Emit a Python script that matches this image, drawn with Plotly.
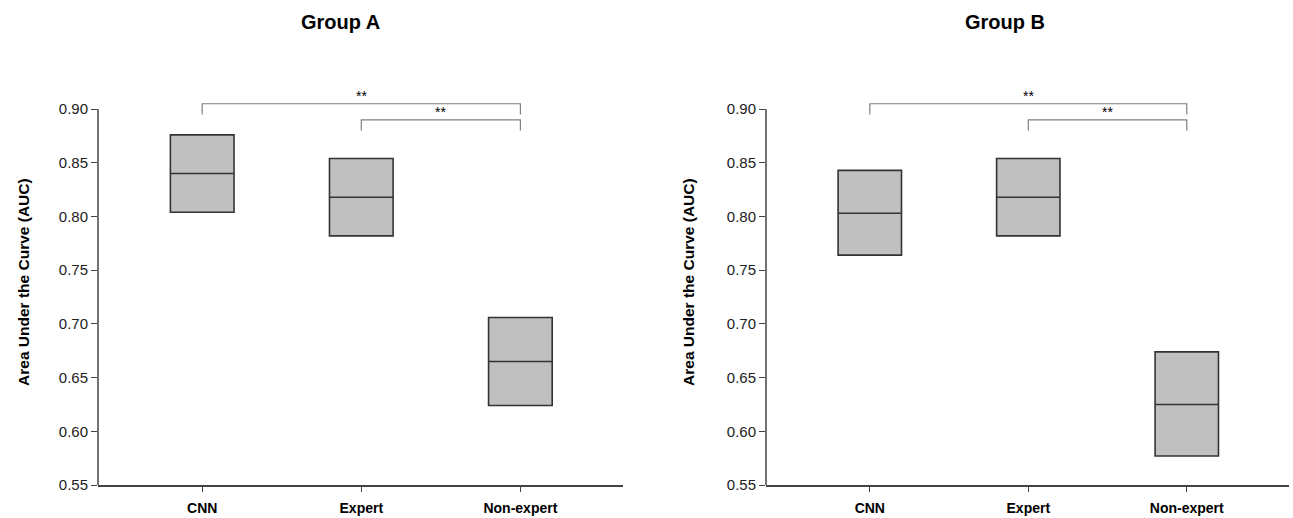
import plotly.graph_objects as go

categories = ["CNN", "Expert", "Non-expert"]
panel_titles = ["Group A", "Group B"]

# [q1, median, q3] per category
a_low = [0.804, 0.782, 0.624]
a_med = [0.840, 0.818, 0.665]
a_high = [0.876, 0.854, 0.706]

b_low = [0.764, 0.782, 0.577]
b_med = [0.803, 0.818, 0.625]
b_high = [0.843, 0.854, 0.674]

# significance brackets: (from index, to index, level, label)
brackets = [(0, 2, 0.905, "**"), (1, 2, 0.890, "**")]
yticks = [0.55, 0.60, 0.65, 0.70, 0.75, 0.80, 0.85, 0.90]

fig = go.Figure()
font = "Liberation Sans, Arial, sans-serif"
panels = [(a_low, a_med, a_high), (b_low, b_med, b_high)]
domains = [[98 / 1293, 623 / 1293], [766 / 1293, 1289 / 1293]]
xr = [-0.655, 2.645]
yr = [0.55, 0.915]

for i, (lo, md, hi) in enumerate(panels):
    xa = "x" if i == 0 else "x2"
    ya = "y" if i == 0 else "y2"
    fig.add_trace(go.Box(
        x=[0, 1, 2], q1=lo, median=md, q3=hi, lowerfence=lo, upperfence=hi,
        width=0.4, whiskerwidth=0, fillcolor="#c0c0c0",
        line=dict(color="#333333", width=1.6), xaxis=xa, yaxis=ya,
        showlegend=False, hoverinfo="skip", boxpoints=False))
    axkey = "xaxis" if i == 0 else "xaxis2"
    aykey = "yaxis" if i == 0 else "yaxis2"
    fig.update_layout(**{
        axkey: dict(domain=domains[i], range=xr, tickvals=[0, 1, 2],
                    ticktext=[f"<b>{c}</b>" for c in categories],
                    showline=True, linecolor="#444444", linewidth=1.5, ticks="outside",
                    ticklen=5, tickcolor="#444444", showgrid=False, zeroline=False,
                    tickfont=dict(family=font, size=14, color="black"), anchor=ya,
                    ticklabelstandoff=4, automargin=False),
        aykey: dict(domain=[0, 1], range=yr, tickvals=yticks,
                    ticktext=[f"{v:.2f}" for v in yticks],
                    showline=False, ticks="outside", ticklen=6, tickcolor="#444444",
                    showgrid=False, zeroline=False,
                    tickfont=dict(family=font, size=15, color="#222222"), anchor=xa,
                    automargin=False),
    })
    xdom = "x domain" if i == 0 else "x2 domain"
    fig.add_shape(type="line", xref=xdom, yref=ya, x0=0, x1=0, y0=0.55, y1=0.90,
                  line=dict(color="#444444", width=1.5))
    for (a, b, lvl, lab) in brackets:
        fig.add_shape(type="path", xref=xa, yref=ya,
                      path=f"M {a},{lvl - 0.010} L {a},{lvl} L {b},{lvl} L {b},{lvl - 0.010}",
                      line=dict(color="#808080", width=1.2))
        fig.add_annotation(x=(a + b) / 2, y=lvl, xref=xa, yref=ya, text=lab,
                           showarrow=False, yanchor="bottom", yshift=-2,
                           font=dict(family=font, size=14, color="black"))
    fig.add_annotation(x=[340 / 1293, 1005 / 1293][i], y=1, xref="paper", yref="paper",
                       xanchor="center", yshift=84, text=f"<b>{panel_titles[i]}</b>",
                       showarrow=False, font=dict(family=font, size=20, color="black"))
    fig.add_annotation(x=[24 / 1293, 689 / 1293][i], y=0.518, xanchor="center",
                       xref="paper", yref="paper", text="<b>Area Under the Curve (AUC)</b>",
                       textangle=-90, showarrow=False,
                       font=dict(family=font, size=15.5, color="black"))

fig.update_layout(width=1293, height=518, margin=dict(l=0, r=0, t=93, b=33),
                  plot_bgcolor="white", paper_bgcolor="white")
fig.write_html("out.html", config={"displayModeBar": False},
               post_script="document.body.style.margin='0';")
